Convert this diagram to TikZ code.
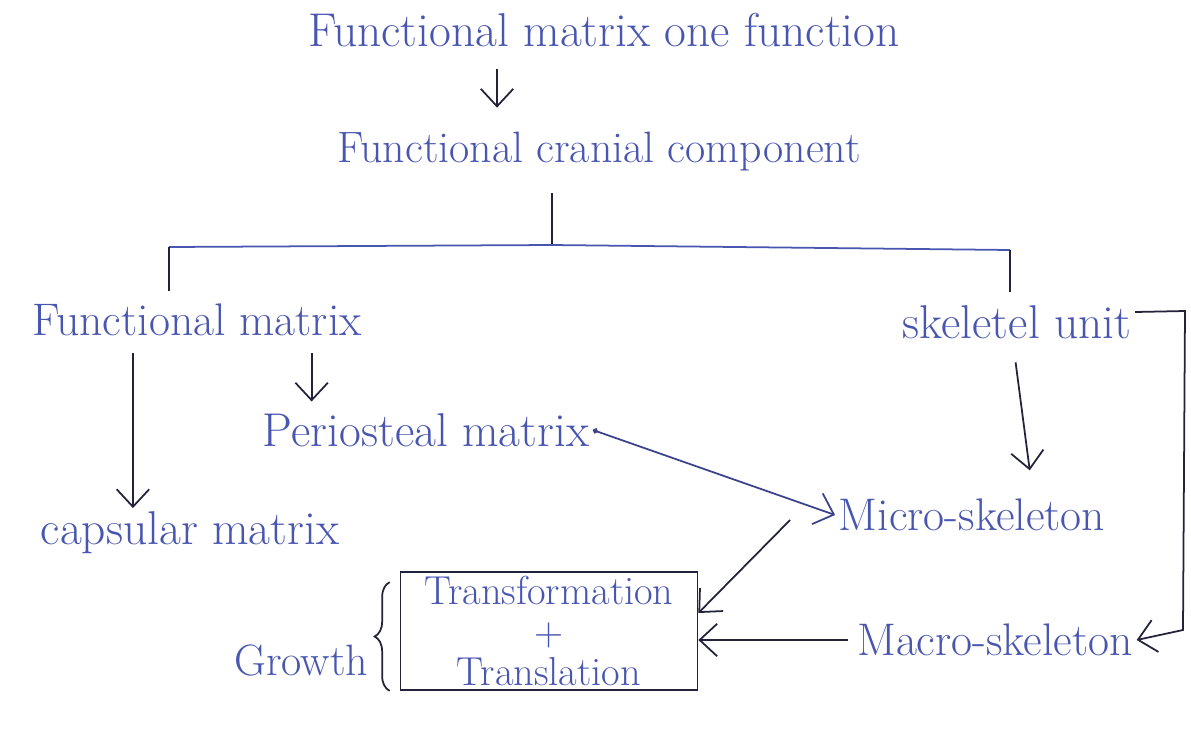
\documentclass[tikz,border=0pt]{standalone}
\usepackage{tikz}
\usetikzlibrary{arrows.meta,calc,decorations.pathreplacing}
\definecolor{ink}{RGB}{72,86,176}
\definecolor{pen}{RGB}{34,34,58}
\definecolor{bluepen}{RGB}{58,66,140}

\begin{document}
\begin{tikzpicture}[x=0.02cm, y=-0.02cm,
  hand/.style={text=ink, inner sep=2pt, font=\fontsize{#1}{#1}\selectfont},
  hand/.default=26,
  plain/.style={pen, line width=1pt},
  flow/.style={plain, -{Straight Barb[length=3.5mm,width=6.5mm]}},
  dotflow/.style={plain, bluepen, {Circle[length=3pt]}-{Straight Barb[length=3.5mm,width=6.5mm]}},
  boxed/.style={hand=23, draw=pen, line width=1pt, align=center,
    minimum width=5.94cm, minimum height=2.36cm}
]
  \useasboundingbox (0,0) rectangle (1191,748);

  \node[hand=27] (topfun) at (604,30) {Functional matrix one function};
  \node[hand=25] (cranial) at (599,152) {Functional cranial component};
  \node[hand] (fmatrix) at (197,320) {Functional matrix};
  \node[hand=27] (skunit) at (1017,322) {skeletel unit};
  \node[hand=27] (periost) at (426,430) {Periosteal matrix};
  \node[hand=27] (capsular) at (190,533) {capsular matrix};
  \node[hand] (micro) at (972,515) {Micro-skeleton};
  \node[hand] (macro) at (995,640) {Macro-skeleton};
  \node[boxed] (tbox) at (549,631) {Transformation\\+\\Translation};
  \node[hand=25, anchor=east] (growth) at (372,660) {Growth};

  \coordinate (barmid) at (552,245);
  \coordinate (barL) at (169,247);
  \coordinate (barR) at (1010,250);
  \coordinate (rtop) at (1185,311);
  \coordinate (rbot) at (1183,630);
  \coordinate (downarr) at ([xshift=-2.14cm]topfun.south);
  \coordinate (capfoot) at ($(fmatrix.south west)!0.31!(fmatrix.south east)$);
  \coordinate (perfoot) at ($(fmatrix.south west)!0.84!(fmatrix.south east)$);

  \draw[flow, shorten <=.36cm, shorten >=.42cm] (downarr) -- (downarr |- cranial.north);
  \draw[plain, shorten <=.36cm] (cranial.south -| barmid) -- (barmid);
  \draw[plain, ink] (barL) -- (barmid) -- (barR);
  \draw[plain, shorten >=.18cm] (barL) -- (barL |- fmatrix.north);
  \draw[plain, shorten >=.18cm] (barR) -- (barR |- skunit.north);

  \draw[flow, shorten <=.26cm] (capfoot) -- (capfoot |- capsular.north);
  \draw[flow, shorten <=.26cm, shorten >=.16cm] (perfoot) -- (perfoot |- periost.north);
  \draw[flow, shorten <=.4cm, shorten >=.5cm] ([xshift=-.08cm]skunit.south)
    -- ([xshift=1.22cm]micro.north);
  \draw[flow] ([yshift=.2cm]skunit.east) -- (rtop) -- (rbot) -- (macro.east);

  \draw[dotflow] (periost.east) -- (micro.west);
  \draw[flow] ([xshift=-.9cm,yshift=-.1cm]micro.west) -- ([yshift=.36cm]tbox.east);
  \draw[flow, shorten <=.1cm] (macro.west) -- (macro.west -| tbox.east);
  \draw[plain, decorate, decoration={brace, amplitude=.3cm}]
    ([xshift=-.2cm]tbox.south west) -- ([xshift=-.2cm, yshift=-.22cm]tbox.north west);
\end{tikzpicture}
\end{document}
